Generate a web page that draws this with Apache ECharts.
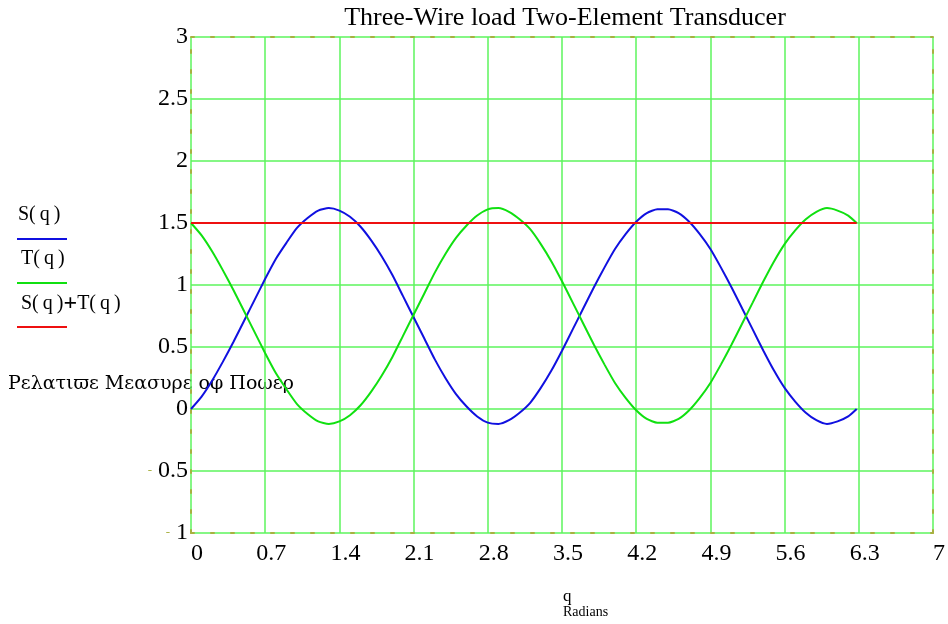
<!DOCTYPE html>
<html><head><meta charset="utf-8">
<script src="https://cdn.jsdelivr.net/npm/echarts@6/dist/echarts.min.js"></script>
<style>html,body{margin:0;padding:0;background:#fff}#c{width:948px;height:624px}</style>
</head><body><div id="c"></div>
<script>
var titleText = 'Three-Wire load Two-Element Transducer';
var xTicks = [0, 0.7, 1.4, 2.1, 2.8, 3.5, 4.2, 4.9, 5.6, 6.3, 7];
var yTicks = [-1, -0.5, 0, 0.5, 1, 1.5, 2, 2.5, 3];
var q = [0,0.1,0.2,0.3,0.4,0.5,0.6,0.7,0.8,0.9,1.0,1.1,1.2,1.3,1.4,1.5,1.6,1.7,1.8,1.9,2.0,2.1,2.2,2.3,2.4,2.5,2.6,2.7,2.8,2.9,3.0,3.1,3.2,3.3,3.4,3.5,3.6,3.7,3.8,3.9,4.0,4.1,4.2,4.3,4.4,4.5,4.6,4.7,4.8,4.9,5.0,5.1,5.2,5.3,5.4,5.5,5.6,5.7,5.8,5.9,6.0,6.1,6.2,6.28];
var S = [0.00,0.10,0.23,0.38,0.54,0.71,0.88,1.05,1.21,1.34,1.46,1.54,1.60,1.62,1.60,1.55,1.47,1.36,1.23,1.08,0.91,0.74,0.57,0.40,0.25,0.12,0.02,-0.06,-0.11,-0.12,-0.09,-0.03,0.05,0.17,0.31,0.47,0.64,0.81,0.98,1.14,1.29,1.41,1.51,1.58,1.61,1.61,1.58,1.51,1.41,1.29,1.14,0.98,0.81,0.64,0.47,0.31,0.17,0.06,-0.03,-0.09,-0.12,-0.10,-0.06,0.00];
var T = [1.50,1.40,1.27,1.12,0.96,0.79,0.62,0.45,0.29,0.16,0.04,-0.04,-0.10,-0.12,-0.10,-0.05,0.03,0.14,0.27,0.42,0.59,0.76,0.93,1.10,1.25,1.38,1.48,1.56,1.61,1.62,1.59,1.53,1.45,1.33,1.19,1.03,0.86,0.69,0.52,0.36,0.21,0.09,-0.01,-0.08,-0.11,-0.11,-0.08,-0.01,0.09,0.21,0.36,0.52,0.69,0.86,1.03,1.19,1.33,1.44,1.53,1.59,1.62,1.60,1.56,1.50];
var sumQ = [0, 6.28];
var sumV = [1.5, 1.5];

function pairs(xs, ys){ return xs.map(function(x,i){ return [x, ys[i]]; }); }

var FONT = '"Liberation Serif","Times New Roman",serif';
var GRIDC = '#5cf55c';
var OLIVE = '#a8b040';
var BLUE = '#1010e0', GREEN = '#10e010', RED = '#ee1010';
var dashAxis = { show: true, onZero: false, lineStyle: { color: OLIVE, width: 2, type: [3, 17] } };
var chart = echarts.init(document.getElementById('c'));
chart.setOption({
  animation: false,
  backgroundColor: '#fff',
  title: { text: titleText, left: 560, top: 0, textAlign: 'center',
    textStyle: { fontFamily: FONT, fontSize: 26, fontWeight: 'normal', color: '#000' } },
  grid: { left: 191, right: 12, top: 37, bottom: 91, containLabel: false },
  xAxis: [{
    type: 'value', min: 0, max: 7, interval: 0.7, position: 'bottom',
    axisLine: dashAxis, axisTick: { show: false },
    splitLine: { show: true, lineStyle: { color: GRIDC, width: 1.5 } },
    axisLabel: { fontFamily: FONT, fontSize: 24, color: '#000', margin: 9, padding: [0,0,0,12],
      formatter: function(v){ return String(Math.round(v*10)/10); } }
  }, {
    type: 'value', min: 0, max: 7, interval: 0.7, position: 'top',
    axisLine: dashAxis, axisTick: { show: false }, axisLabel: { show: false }, splitLine: { show: false }
  }],
  yAxis: [{
    type: 'value', min: -1, max: 3, interval: 0.5, position: 'left',
    axisLine: dashAxis, axisTick: { show: false },
    splitLine: { show: true, lineStyle: { color: GRIDC, width: 1.5 } },
    axisLabel: { fontFamily: FONT, fontSize: 24, color: '#000', margin: 3,
      formatter: function(v){ return v < 0 ? '{m|-} ' + String(-v) : String(v); },
      rich: { m: { color: OLIVE, fontSize: 13, fontFamily: FONT } } }
  }, {
    type: 'value', min: -1, max: 3, interval: 0.5, position: 'right',
    axisLine: dashAxis, axisTick: { show: false }, axisLabel: { show: false }, splitLine: { show: false }
  }],
  series: [
    { name: 'S(q)', type: 'line', data: pairs(q, S), smooth: 0.2, showSymbol: false,
      lineStyle: { color: BLUE, width: 2 }, z: 3 },
    { name: 'T(q)', type: 'line', data: pairs(q, T), smooth: 0.2, showSymbol: false,
      lineStyle: { color: GREEN, width: 2 }, z: 3 },
    { name: 'S(q)+T(q)', type: 'line', data: pairs(sumQ, sumV), showSymbol: false,
      lineStyle: { color: RED, width: 2 }, z: 4 }
  ],
  graphic: [
    { type: 'text', left: 18, top: 205, style: { text: 'S(\u2009q\u2009)', font: '20px ' + FONT, fill: '#000' } },
    { type: 'line', shape: { x1: 17, y1: 239, x2: 67, y2: 239 }, style: { stroke: BLUE, lineWidth: 2 } },
    { type: 'text', left: 21, top: 249, style: { text: 'T(\u2009q\u2009)', font: '20px ' + FONT, fill: '#000' } },
    { type: 'line', shape: { x1: 17, y1: 283, x2: 67, y2: 283 }, style: { stroke: GREEN, lineWidth: 2 } },
    { type: 'text', left: 21, top: 292, style: { text: 'S(\u2009q\u2009){p|+}T(\u2009q\u2009)', font: '20px ' + FONT, fill: '#000',
      rich: { p: { fontSize: 24, fontWeight: 'bold', fontFamily: FONT, fill: '#000' } } } },
    { type: 'line', shape: { x1: 17, y1: 327, x2: 67, y2: 327 }, style: { stroke: RED, lineWidth: 2 } },
    { type: 'text', left: 8, top: 375, style: { text: 'Ρελατιϖε Μεασυρε οφ Ποωερ', font: '19px "DejaVu Serif", serif', fill: '#000' } },
    { type: 'text', left: 563, top: 588, style: { text: 'q', font: '17px ' + FONT, fill: '#000', textAlign: 'center' } },
    { type: 'text', left: 563, top: 605, style: { text: 'Radians', font: '14px ' + FONT, fill: '#000', textAlign: 'center' } }
  ]
});
</script>
</body></html>
